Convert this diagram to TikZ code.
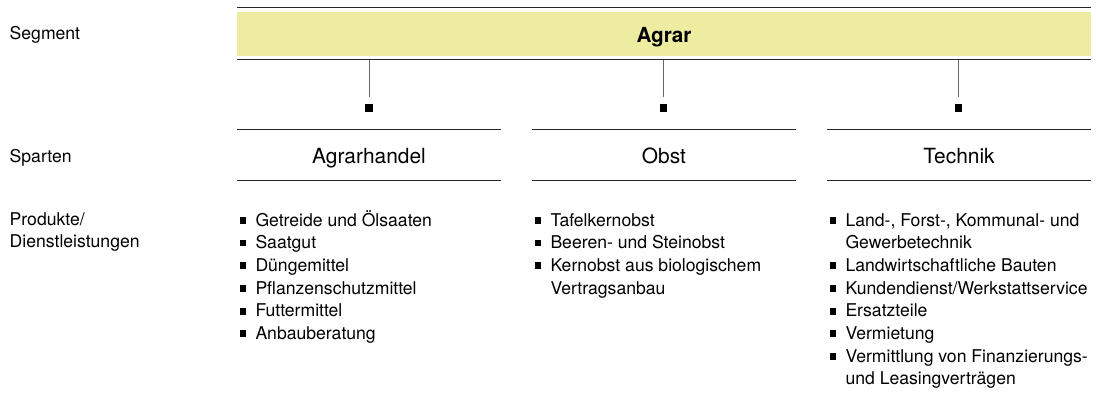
\documentclass[tikz,border=0pt]{standalone}
\usepackage{fontspec}
\setmainfont{TeX Gyre Heros}
\definecolor{agrargelb}{RGB}{238,236,160}
\newcommand{\punkt}{\makebox[16pt][l]{\rule[2.3pt]{6.8pt}{6.8pt}}}
\newcommand{\weiter}{\hspace*{16pt}}

\begin{document}
\begin{tikzpicture}[x=1pt,y=-1pt,
  every node/.style={inner sep=0pt},
  klein/.style={font=\fontsize{17.6}{22.7}\selectfont},
  segment/.style={rectangle,fill=agrargelb,minimum width=854pt,minimum height=44pt,
    font=\fontsize{20.7}{24}\selectfont\bfseries,text height=17.4pt,text depth=0pt},
  sparte/.style={rectangle,minimum width=264pt,minimum height=50.5pt,
    font=\fontsize{20.9}{24}\selectfont,text height=16.5pt,text depth=0pt},
  knoten/.style={rectangle,fill=black,minimum size=7.5pt},
  linie/.style={draw=black!85,line width=1.3pt},
  stiel/.style={draw=black!60,line width=0.9pt,shorten <=3.5pt,shorten >=7pt},
  liste/.style={klein,anchor=base west}]
\useasboundingbox (0,0) rectangle (1096,420);

\node at (9.5,40)  (lblSegment) [klein,anchor=base west] {Segment};
\node at (9.5,162) (lblSparten) [klein,anchor=base west] {Sparten};
\node at (9.5,225) (lblProdukte) [liste] {\parbox[t]{200pt}{Produkte/\\Dienstleistungen}};

\node at (664,34) (agrar) [segment] {Agrar};
\draw [linie] ([yshift=4pt]agrar.north west) -- ([yshift=4pt]agrar.north east);
\draw [linie] ([yshift=-3.5pt]agrar.south west) -- ([yshift=-3.5pt]agrar.south east);

\node at (369,108)   (knotenA) [knoten] {};
\node at (663.5,108) (knotenB) [knoten] {};
\node at (958.5,108) (knotenC) [knoten] {};
\draw [stiel] (agrar.south -| knotenA) -- (knotenA.north);
\draw [stiel] (agrar.south -| knotenB) -- (knotenB.north);
\draw [stiel] (agrar.south -| knotenC) -- (knotenC.north);

\node at (369,154.75) (agrarhandel) [sparte] {Agrarhandel};
\node at (664,154.75) (obst)        [sparte] {Obst};
\node at (959,154.75) (technik)     [sparte] {Technik};
\foreach \s in {agrarhandel,obst,technik} {
  \draw [linie] (\s.north west) -- (\s.north east);
  \draw [linie] (\s.south west) -- (\s.south east);
}

\node at (239.3,226) (listeA) [liste] {\parbox[t]{300pt}{\raggedright
  \punkt Getreide und Ölsaaten\\
  \punkt Saatgut\\
  \punkt Düngemittel\\
  \punkt Pflanzenschutzmittel\\
  \punkt Futtermittel\\
  \punkt Anbauberatung}};
\node at (534.3,226) (listeB) [liste] {\parbox[t]{300pt}{\raggedright
  \punkt Tafelkernobst\\
  \punkt Beeren- und Steinobst\\
  \punkt Kernobst aus biologischem\\
  \weiter Vertragsanbau}};
\node at (829.3,226) (listeC) [liste] {\parbox[t]{300pt}{\raggedright
  \punkt Land-, Forst-, Kommunal- und\\
  \weiter Gewerbetechnik\\
  \punkt Landwirtschaftliche Bauten\\
  \punkt Kundendienst/Werkstattservice\\
  \punkt Ersatzteile\\
  \punkt Vermietung\\
  \punkt Vermittlung von Finanzierungs-\\
  \weiter und Leasingverträgen}};
\end{tikzpicture}
\end{document}
